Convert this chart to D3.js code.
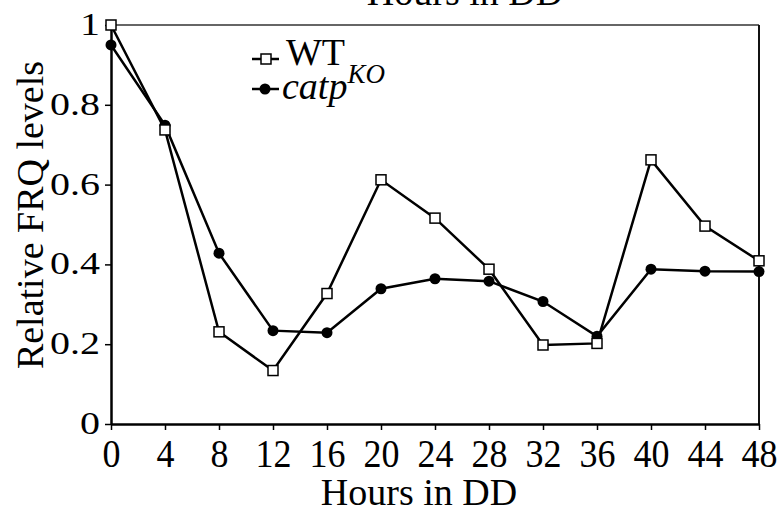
<!DOCTYPE html>
<html><head><meta charset="utf-8">
<script src="https://cdn.jsdelivr.net/npm/d3@7"></script>
<style>
body{margin:0;background:#fff;}
svg{display:block;}
text{font-family:"Liberation Serif","Times New Roman",serif;fill:#000;}
</style></head>
<body><svg id="c" width="778" height="512"></svg>
<script>
const hours = [0,4,8,12,16,20,24,28,32,36,40,44,48];
const wtValues = [1.0,0.737,0.231,0.134,0.327,0.612,0.516,0.388,0.198,0.202,0.662,0.496,0.409];
const catpValues = [0.950,0.749,0.428,0.234,0.229,0.339,0.364,0.358,0.307,0.220,0.388,0.383,0.382];
const yTicks = [0,0.2,0.4,0.6,0.8,1];
const yTickLabels = ["0","0.2","0.4","0.6","0.8","1"];
const xTitle = "Hours in DD";
const yTitle = "Relative FRQ levels";

const svg = d3.select("#c");
const x = d3.scaleLinear().domain([0,48]).range([111,759]);
const y = d3.scaleLinear().domain([0,1]).range([424,25]);

// top title (cut off at the top edge, as in the reference)
svg.append("text").attr("x",465).attr("y",5).attr("text-anchor","middle")
  .style("font-size","38px").text(xTitle);

// frame top/right
svg.append("line").attr("x1",x(0)).attr("x2",x(48)).attr("y1",y(1)).attr("y2",y(1))
  .attr("stroke","#666").attr("stroke-width",2);
svg.append("line").attr("x1",x(48)).attr("x2",x(48)).attr("y1",y(1)).attr("y2",y(0))
  .attr("stroke","#111").attr("stroke-width",2);

// x axis
const gx = svg.append("g").attr("transform",`translate(0,${y(0)})`)
  .call(d3.axisBottom(x).tickValues(hours).tickSize(6).tickSizeOuter(0).tickFormat(d3.format("d")));
gx.attr("font-family",null).attr("font-size",null);
gx.select(".domain").attr("stroke","#000").attr("stroke-width",2.5);
gx.selectAll(".tick line").attr("stroke","#000").attr("stroke-width",1.5);
gx.selectAll(".tick text").attr("y",null).attr("dy",null)
  .attr("transform","translate(0,43) scale(1,1.11)")
  .style("font-size","36px");

// y axis
const gy = svg.append("g").attr("transform",`translate(${x(0)},0)`)
  .call(d3.axisLeft(y).tickValues(yTicks).tickSize(6).tickSizeOuter(0)
    .tickFormat((d,i)=>yTickLabels[i]));
gy.attr("font-family",null).attr("font-size",null);
gy.select(".domain").attr("stroke","#000").attr("stroke-width",2.5);
gy.selectAll(".tick line").attr("stroke","#000").attr("stroke-width",1.5);
gy.selectAll(".tick text").attr("x",null).attr("dy",null)
  .attr("transform","translate(-11,9.5) scale(1,0.8)")
  .style("font-size","40px");

// axis titles
svg.append("text").attr("x",419).attr("y",505).attr("text-anchor","middle")
  .style("font-size","38px").text(xTitle);
svg.append("text").attr("transform","translate(43,215) rotate(-90)").attr("text-anchor","middle")
  .style("font-size","38px").text(yTitle);

const line = d3.line().x((d,i)=>x(hours[i])).y(d=>y(d));

svg.append("path").datum(catpValues).attr("d",line).attr("fill","none")
  .attr("stroke","#000").attr("stroke-width",2.5);
svg.append("path").datum(wtValues).attr("d",line).attr("fill","none")
  .attr("stroke","#000").attr("stroke-width",2.5);

svg.selectAll("circle.catp").data(catpValues).enter().append("circle")
  .attr("class","catp").attr("cx",(d,i)=>x(hours[i])).attr("cy",d=>y(d)).attr("r",5.5).attr("fill","#000");
svg.selectAll("rect.wt").data(wtValues).enter().append("rect")
  .attr("class","wt").attr("x",(d,i)=>x(hours[i])-5).attr("y",d=>y(d)-5)
  .attr("width",10).attr("height",10).attr("fill","#fff").attr("stroke","#000").attr("stroke-width",1.5);

// legend
const lg = svg.append("g");
lg.append("line").attr("x1",252).attr("x2",279).attr("y1",59).attr("y2",59).attr("stroke","#000").attr("stroke-width",2.5);
lg.append("rect").attr("x",261).attr("y",54).attr("width",10).attr("height",10).attr("fill","#fff").attr("stroke","#000").attr("stroke-width",1.5);
lg.append("text").attr("x",286).attr("y",65).style("font-size","38px").text("WT");
lg.append("line").attr("x1",252).attr("x2",279).attr("y1",89).attr("y2",89).attr("stroke","#000").attr("stroke-width",2.5);
lg.append("circle").attr("cx",265).attr("cy",89).attr("r",5.5).attr("fill","#000");
const t2 = lg.append("text").attr("x",282).attr("y",99).style("font-size","38px");
t2.append("tspan").style("font-style","italic").text("catp");
t2.append("tspan").style("font-style","italic").style("font-size","27px").attr("dy",-16).text("KO");
</script></body></html>
